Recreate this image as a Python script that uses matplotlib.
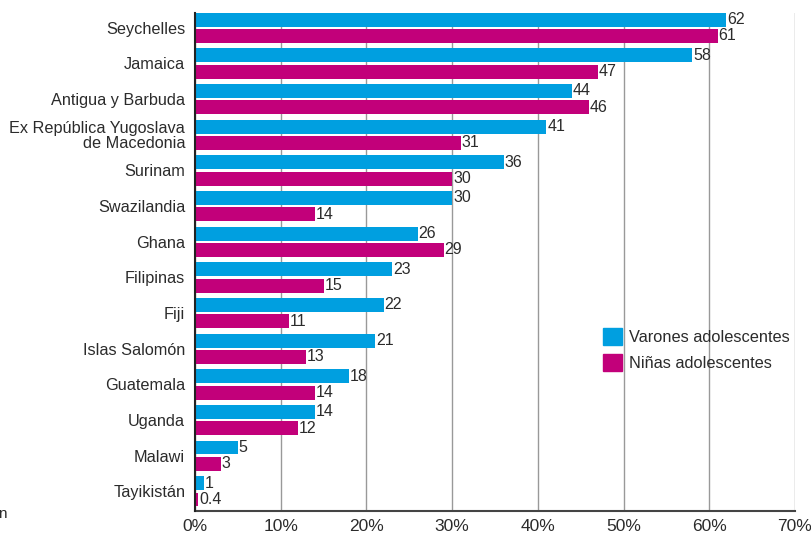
import numpy as np
import matplotlib
matplotlib.use("Agg")
import matplotlib.pyplot as plt
from matplotlib.patches import Patch

plt.rcParams["font.family"] = ["Liberation Sans", "DejaVu Sans"]

countries = ["Seychelles", "Jamaica", "Antigua y Barbuda",
             "Ex República Yugoslava\nde Macedonia", "Surinam", "Swazilandia",
             "Ghana", "Filipinas", "Fiji", "Islas Salomón", "Guatemala",
             "Uganda", "Malawi", "Tayikistán"]
boys = [62, 58, 44, 41, 36, 30, 26, 23, 22, 21, 18, 14, 5, 1]
girls = [61, 47, 46, 31, 30, 14, 29, 15, 11, 13, 14, 12, 3, 0.4]
boys_labels = ["62", "58", "44", "41", "36", "30", "26", "23", "22", "21", "18", "14", "5", "1"]
girls_labels = ["61", "47", "46", "31", "30", "14", "29", "15", "11", "13", "14", "12", "3", "0.4"]
xticks = [0, 10, 20, 30, 40, 50, 60, 70]

BLUE = "#009FE0"
MAGENTA = "#C2007A"
TEXT = "#2b2b2b"

fig = plt.figure(figsize=(8.12, 5.35), dpi=100)
ax = fig.add_axes([0.2401, 0.0449, 0.979 - 0.2401, 0.9763 - 0.0449])

y = np.arange(len(countries))
h = 0.39
off = 0.229
ax.barh(y - off, boys, height=h, color=BLUE, zorder=3)
ax.barh(y + off, girls, height=h, color=MAGENTA, zorder=3)

for yi, v, s in zip(y, boys, boys_labels):
    ax.text(v + 0.1, yi - off, s, va="center", ha="left", fontsize=11.5, color=TEXT)
for yi, v, s in zip(y, girls, girls_labels):
    ax.text(v + 0.1, yi + off, s, va="center", ha="left", fontsize=11.5, color=TEXT)

ax.set_xlim(0, 70)
ax.set_ylim(13.55, -0.424)
ax.set_xticks(xticks)
ax.set_xticklabels([f"{t}%" for t in xticks], fontsize=12.5, color=TEXT)
ax.set_yticks(y)
ax.set_yticklabels(countries, fontsize=11.7, color=TEXT, linespacing=1.0)
ax.tick_params(axis="both", length=0)
ax.tick_params(axis="x", pad=6)
ax.tick_params(axis="y", pad=7)

ax.grid(axis="x", color="#999999", linewidth=1, zorder=0)
for side in ["top", "right"]:
    ax.spines[side].set_visible(False)
ax.spines["left"].set_color("#222222")
ax.spines["left"].set_linewidth(1.5)
ax.spines["bottom"].set_color("#444444")
ax.spines["bottom"].set_linewidth(1.5)
ax.spines["left"].set_zorder(4)

handles = [Patch(color=BLUE, label="Varones adolescentes"),
           Patch(color=MAGENTA, label="Niñas adolescentes")]
ax.legend(handles=handles, loc="upper left", bbox_to_anchor=(0.655, 0.397),
          frameon=False, fontsize=11.8, handlelength=1.2, handleheight=1.2,
          handletextpad=0.4, labelspacing=0.57, labelcolor=TEXT)

fig.text(-0.003, 0.031, "n", fontsize=11, color=TEXT, va="baseline")

fig.savefig("out.png", dpi=100)
